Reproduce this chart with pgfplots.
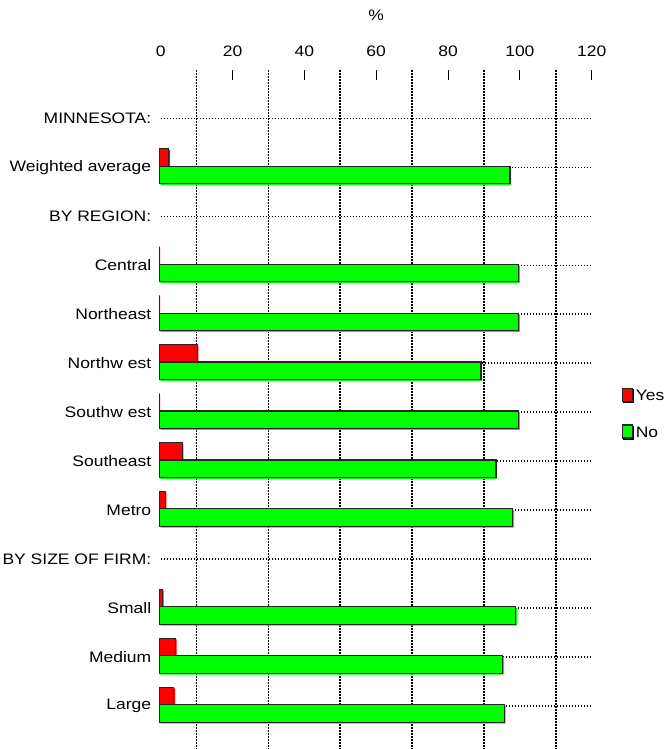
\documentclass[border=0pt]{standalone}
\usepackage{fontspec}
\setmainfont{Liberation Sans}[FakeStretch=1.15]
\usepackage{pgfplots}
\pgfplotsset{compat=1.18}

\definecolor{yescol}{RGB}{255,0,0}
\definecolor{nocol}{RGB}{0,255,0}

\begin{document}
\begin{tikzpicture}[font=\fontsize{15.2bp}{18bp}\selectfont]
  \begin{axis}[
    name=ax,
    xbar,
    scale only axis,
    width=431bp,
    height=679bp,
    xmin=0, xmax=120,
    ymin=-0.99, ymax=12.88,
    y dir=reverse,
    clip=false,
    axis x line*=top,
    axis y line*=left,
    axis line style={draw=none},
    /pgf/number format/assume math mode=true,
    xtick={20,40,...,120},
    extra x ticks={0},
    extra x tick style={grid=none, major tick length=0pt},
    minor xtick={10,30,...,110},
    xminorgrids=true,
    minor tick length=0pt,
    major tick length=10bp,
    x tick style={black, line width=1bp},
    xticklabel shift=10bp,
    ytick={0,...,12},
    ytick style={draw=none},
    yticklabel style={xshift=4bp},
    yticklabels={MINNESOTA:, Weighted average, BY REGION:, Central,
      Northeast, Northw est, Southw est, Southeast, Metro,
      BY SIZE OF FIRM:, Small, Medium, Large},
    ymajorgrids=true,
    grid style={black, line width=1.6bp, dash pattern=on 1.6bp off 1.4bp},
    bar width=0.36,
    legend style={at={(1.073,0.493)}, anchor=west, draw=none, fill=none,
      row sep=21bp, inner sep=0pt},
    legend cell align=left,
    legend image code/.code={\draw[#1] (0bp,-6.5bp) rectangle (10bp,6.5bp);},
    ]

    \addplot[bar shift=-0.18, fill=yescol, draw=none,
      postaction={draw=black!85, line width=1.1bp,
        transform canvas={shift={(-1.2bp,1.2bp)}}}]
      coordinates {
      (2.6,1) (0,3) (0,4) (10.5,5) (0,6) (6.3,7) (1.6,8)
      (0.8,10) (4.4,11) (4.0,12)
    };
    \addplot[bar shift=0.18, fill=nocol, draw=none,
      postaction={draw=black!85, line width=1.1bp,
        transform canvas={shift={(-1.2bp,1.2bp)}}}]
      coordinates {
      (97.6,1) (100,3) (100,4) (89.5,5) (100,6) (93.7,7) (98.4,8)
      (99.2,10) (95.6,11) (96.0,12)
    };
    \legend{Yes, No}
  \end{axis}
  \node at ([yshift=55bp]ax.north) {\%};
  \pgfresetboundingbox
  \path (ax.south west) ++(-160.7bp,0) rectangle ++(670bp,749bp);
\end{tikzpicture}
\end{document}
